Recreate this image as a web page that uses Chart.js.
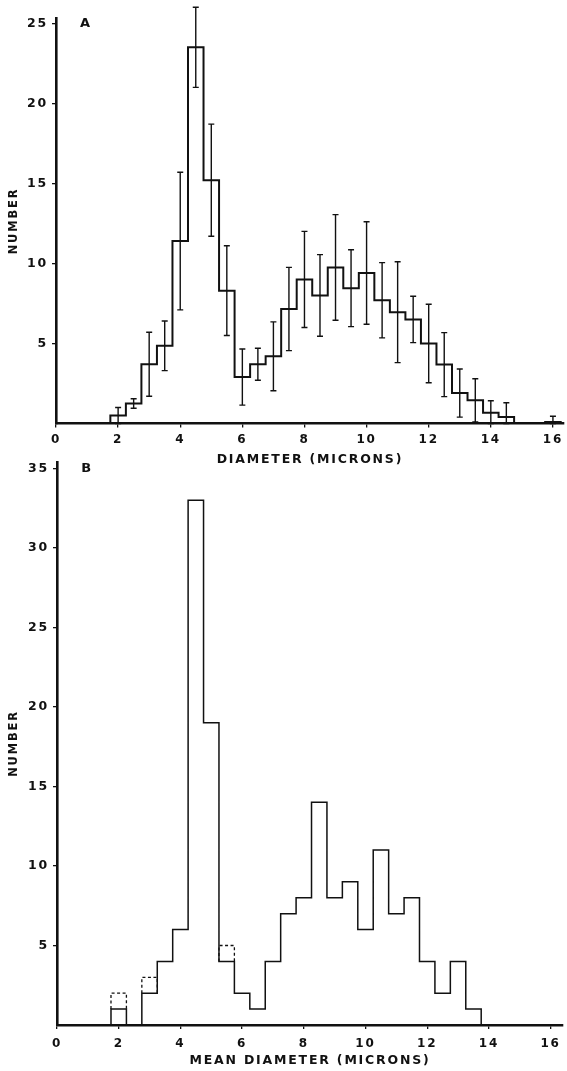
<!DOCTYPE html>
<html>
<head>
<meta charset="utf-8">
<script src="https://cdn.jsdelivr.net/npm/chart.js@4.4.1/dist/chart.umd.min.js"></script>
<style>
  html, body { margin: 0; padding: 0; background: #fff; }
  body { width: 567px; height: 1071px; position: relative; overflow: hidden; }
  canvas { position: absolute; left: 0; }
  #chartA { top: 0; }
  #chartB { top: 440px; }
</style>
</head>
<body>
<canvas id="chartA" width="567" height="470"></canvas>
<canvas id="chartB" width="567" height="631"></canvas>
<script>
const INK = '#111';
const FONT = '"DejaVu Sans", sans-serif';
const BIN = 0.5; // bin width, microns

// A: measured diameters, bin centres, counts and error
const aCenters = [2, 2.5, 3, 3.5, 4, 4.5, 5, 5.5, 6, 6.5, 7, 7.5, 8, 8.5, 9, 9.5, 10,
                  10.5, 11, 11.5, 12, 12.5, 13, 13.5, 14, 14.5, 15, 15.5, 16];
const aCounts = [0.5, 1.25, 3.7, 4.85, 11.4, 23.5, 15.2, 8.3, 2.9, 3.7, 4.2, 7.15, 9.0, 8.0, 9.75, 8.45, 9.4,
                 7.7, 6.95, 6.5, 5.0, 3.68, 1.9, 1.45, 0.67, 0.4, 0, 0, 0.1];
const aErrors = [0.5, 0.3, 2.0, 1.55, 4.3, 2.5, 3.5, 2.8, 1.75, 1.0, 2.15, 2.6, 3.0, 2.55, 3.3, 2.4, 3.2,
                 2.35, 3.15, 1.45, 2.45, 2.0, 1.5, 1.35, 0.75, 0.9, null, null, 0.35];

// B: mean diameters, solid counts and the dashed upper counts
const bCenters = [2, 2.5, 3, 3.5, 4, 4.5, 5, 5.5, 6, 6.5, 7, 7.5, 8, 8.5, 9, 9.5, 10,
                  10.5, 11, 11.5, 12, 12.5, 13, 13.5];
const bCounts = [1, 0, 2, 4, 6, 33, 19, 4, 2, 1, 4, 7, 8, 14, 8, 9, 6,
                 11, 7, 8, 4, 2, 4, 1];
const bDashed = [2, null, 3, null, null, null, null, 5, null, null, null, null, null, null, null, null, null,
                 null, null, null, null, null, null, null];

const xTicks = [0, 2, 4, 6, 8, 10, 12, 14, 16];
const aYTicks = [5, 10, 15, 20, 25];
const bYTicks = [5, 10, 15, 20, 25, 30, 35];

function outline(centers, counts) {
  const pts = [{x: centers[0] - BIN / 2, y: 0}];
  centers.forEach((c, i) => {
    pts.push({x: c - BIN / 2, y: counts[i]}, {x: c + BIN / 2, y: counts[i]});
  });
  pts.push({x: centers[centers.length - 1] + BIN / 2, y: 0});
  return pts;
}

function dashedBoxes(centers, counts, upper) {
  const pts = [];
  centers.forEach((c, i) => {
    if (upper[i] == null) return;
    pts.push({x: c - BIN / 2, y: counts[i]}, {x: c - BIN / 2, y: upper[i]},
             {x: c + BIN / 2, y: upper[i]}, {x: c + BIN / 2, y: counts[i]},
             {x: c, y: null});
  });
  return pts;
}

function errorBars(centers, counts, errors) {
  return {
    id: 'errorBars',
    afterDatasetsDraw(chart) {
      const {ctx, scales: {x, y}} = chart;
      ctx.save();
      ctx.strokeStyle = INK;
      ctx.lineWidth = 1.4;
      centers.forEach((c, i) => {
        const e = errors[i];
        if (e == null) return;
        const px = x.getPixelForValue(c);
        const top = y.getPixelForValue(counts[i] + e);
        const bot = y.getPixelForValue(Math.max(0, counts[i] - e));
        ctx.beginPath();
        ctx.moveTo(px, top); ctx.lineTo(px, bot);
        ctx.moveTo(px - 3, top); ctx.lineTo(px + 3, top);
        ctx.moveTo(px - 3, bot); ctx.lineTo(px + 3, bot);
        ctx.stroke();
      });
      ctx.restore();
    }
  };
}

function panelLetter(letter, yValue) {
  return {
    id: 'panelLetter',
    afterDraw(chart) {
      const {ctx, chartArea, scales: {y}} = chart;
      ctx.save();
      ctx.fillStyle = INK;
      ctx.font = 'bold 13px ' + FONT;
      ctx.textAlign = 'center';
      ctx.textBaseline = 'middle';
      ctx.fillText(letter, chartArea.left + 30, y.getPixelForValue(yValue));
      ctx.restore();
    }
  };
}

const spacing = {
  id: 'spacing',
  beforeDraw(chart) { chart.ctx.letterSpacing = '1.8px'; }
};

function makeChart(id, cfg) {
  const datasets = [{
    data: outline(cfg.centers, cfg.counts),
    borderColor: INK,
    borderWidth: cfg.lineWidth,
    pointRadius: 0,
    tension: 0,
    fill: false
  }];
  if (cfg.dashed) {
    datasets.push({
      data: dashedBoxes(cfg.centers, cfg.counts, cfg.dashed),
      borderColor: INK,
      borderWidth: 1.3,
      borderDash: [3, 2.5],
      pointRadius: 0,
      spanGaps: false,
      fill: false
    });
  }
  const plugins = [spacing, panelLetter(cfg.letter, cfg.letterY)];
  if (cfg.errors) plugins.push(errorBars(cfg.centers, cfg.counts, cfg.errors));

  return new Chart(document.getElementById(id), {
    type: 'line',
    data: {datasets},
    plugins,
    options: {
      responsive: false,
      animation: false,
      layout: {padding: {top: cfg.top, right: cfg.right, left: 0, bottom: 0}},
      plugins: {legend: {display: false}, tooltip: {enabled: false}},
      scales: {
        x: {
          type: 'linear',
          min: 0,
          max: cfg.xMax,
          afterBuildTicks: s => { s.ticks = xTicks.map(v => ({value: v})); },
          afterFit: s => { s.height = cfg.xHeight; },
          border: {display: true, color: INK, width: 2.6},
          grid: {display: true, drawOnChartArea: false, drawTicks: true, tickLength: 4, color: INK, lineWidth: 1.3},
          ticks: {color: INK, font: {family: FONT, size: 12, weight: 'bold'}, padding: cfg.xPad, maxRotation: 0, autoSkip: false},
          title: {display: true, text: cfg.xTitle, color: INK, font: {family: FONT, size: 12.5, weight: 'bold'}, padding: {top: 0, bottom: 2.6}}
        },
        y: {
          type: 'linear',
          min: 0,
          max: cfg.yMax,
          afterBuildTicks: s => { s.ticks = cfg.yTicks.map(v => ({value: v})); },
          afterFit: s => { s.width = cfg.left; },
          border: {display: true, color: INK, width: 2.6},
          grid: {display: true, drawOnChartArea: false, drawTicks: true, tickLength: 4, color: INK, lineWidth: 1.3},
          ticks: {color: INK, font: {family: FONT, size: 12.5, weight: 'bold'}, padding: 4},
          title: {display: true, text: 'NUMBER', color: INK, font: {family: FONT, size: 11.5, weight: 'bold'}, padding: {top: 7, bottom: 0}}
        }
      }
    }
  });
}

makeChart('chartA', {
  centers: aCenters, counts: aCounts, errors: aErrors,
  letter: 'A', letterY: 25, lineWidth: 2,
  top: 18.5, right: 3.2, left: 56, xMax: 16.35, yMax: 25.3, yTicks: aYTicks,
  xHeight: 46.5, xPad: 5, xTitle: 'DIAMETER (MICRONS)'
});

makeChart('chartB', {
  centers: bCenters, counts: bCounts, dashed: bDashed,
  letter: 'B', letterY: 35, lineWidth: 1.5,
  top: 22, right: 1.6, left: 57, xMax: 16.4, yMax: 35.4, yTicks: bYTicks,
  xHeight: 46, xPad: 8, xTitle: 'MEAN DIAMETER (MICRONS)'
});
</script>
</body>
</html>
